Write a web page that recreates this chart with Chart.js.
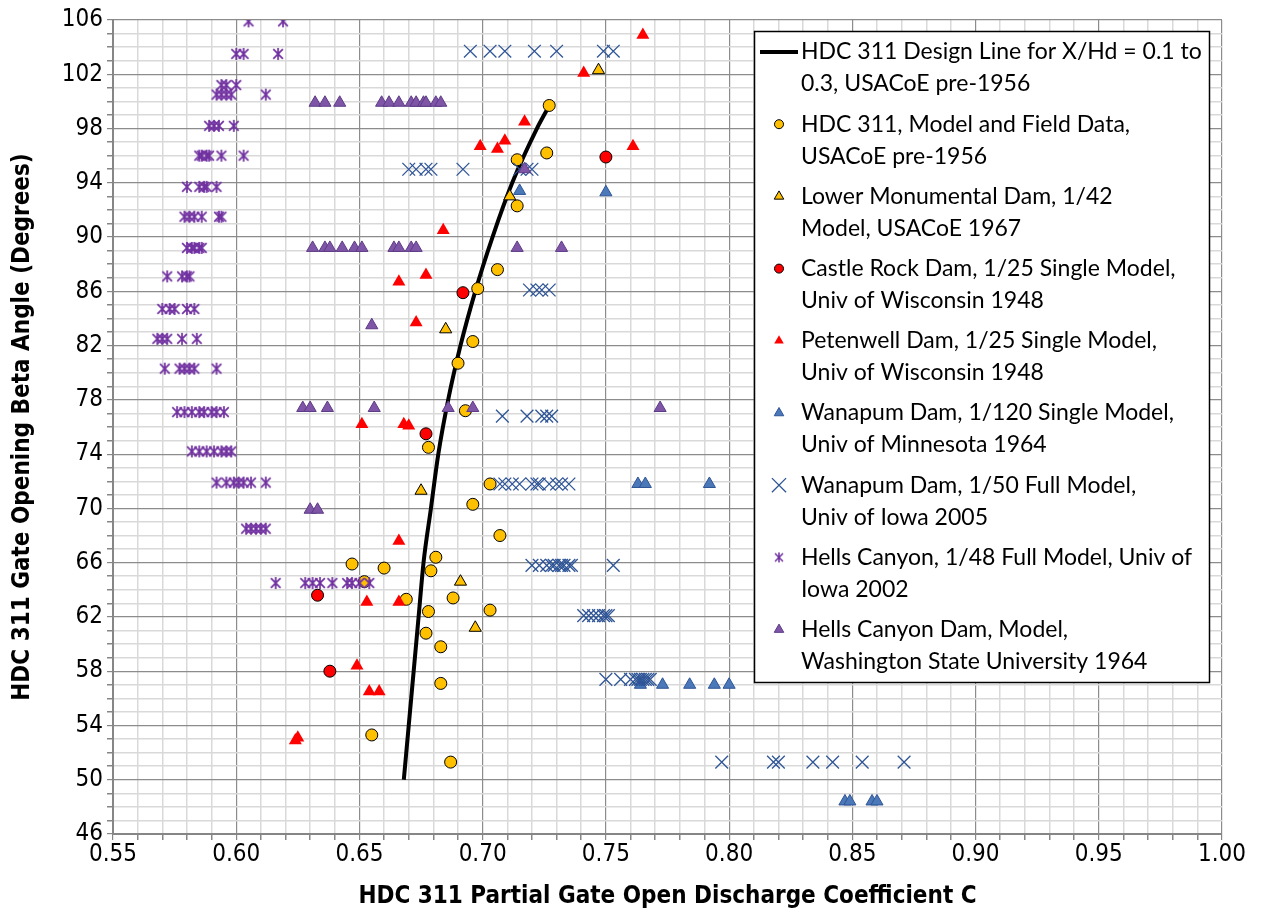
<!DOCTYPE html>
<html>
<head>
<meta charset="utf-8">
<script src="https://cdn.jsdelivr.net/npm/chart.js@4.4.1/dist/chart.umd.min.js"></script>
<style>
  html, body { margin: 0; padding: 0; background: #fff; }
  #wrap { width: 1261px; height: 914px; }
</style>
</head>
<body>
<div id="wrap"><canvas id="gateChart" width="1261" height="914"></canvas></div>
<script>
// design line (beta vs C)
const designC    = [0.668, 0.670, 0.672, 0.674, 0.676, 0.679, 0.682, 0.686, 0.691, 0.697, 0.704, 0.712, 0.722, 0.728];
const designBeta = [50, 54, 58, 62, 66, 70, 74, 78, 82, 86, 90, 94, 98, 100];

// HDC 311 model and field data
const hdcC    = [0.727, 0.726, 0.714, 0.714, 0.706, 0.698, 0.696, 0.690, 0.693, 0.678, 0.703, 0.696, 0.707, 0.681,
                 0.647, 0.660, 0.679, 0.652, 0.669, 0.688, 0.678, 0.703, 0.677, 0.683, 0.683, 0.655, 0.687];
const hdcBeta = [99.7, 96.2, 95.7, 92.3, 87.6, 86.2, 82.3, 80.7, 77.2, 74.5, 71.8, 70.3, 68.0, 66.4,
                 65.9, 65.6, 65.4, 64.6, 63.3, 63.4, 62.4, 62.5, 60.8, 59.8, 57.1, 53.3, 51.3];

const lowerMonC    = [0.747, 0.711, 0.685, 0.675, 0.691, 0.697];
const lowerMonBeta = [102.3, 93.0, 83.2, 71.3, 64.6, 61.2];

const castleC    = [0.750, 0.692, 0.677, 0.633, 0.638];
const castleBeta = [95.9, 85.9, 75.5, 63.6, 58.0];

const petenC    = [0.765, 0.741, 0.761, 0.717, 0.699, 0.706, 0.709, 0.684, 0.677, 0.666, 0.673,
                   0.651, 0.668, 0.670, 0.666, 0.653, 0.666, 0.649, 0.654, 0.658, 0.624, 0.625];
const petenBeta = [104.9, 102.1, 96.7, 98.5, 96.7, 96.5, 97.1, 90.5, 87.2, 86.7, 83.7,
                   76.2, 76.2, 76.1, 67.6, 63.1, 63.1, 58.4, 56.5, 56.5, 52.9, 53.1];

const wanSingleC    = [0.715, 0.750, 0.763, 0.766, 0.792, 0.764, 0.773, 0.784, 0.794, 0.800, 0.847, 0.849, 0.858, 0.860];
const wanSingleBeta = [93.4, 93.3, 71.8, 71.8, 71.8, 57.0, 57.0, 57.0, 57.0, 57.0, 48.4, 48.4, 48.4, 48.4];

const wanFullC = [
  0.695, 0.703, 0.709, 0.721, 0.730, 0.749, 0.753,
  0.670, 0.673, 0.677, 0.679, 0.692, 0.715, 0.718, 0.720,
  0.719, 0.722, 0.724, 0.727,
  0.708, 0.718, 0.724, 0.726, 0.728,
  0.707, 0.709, 0.712, 0.715, 0.720, 0.722, 0.723, 0.727, 0.730, 0.732, 0.735,
  0.720, 0.723, 0.726, 0.728, 0.729, 0.731, 0.732, 0.733, 0.735, 0.736, 0.753,
  0.741, 0.743, 0.745, 0.747, 0.749, 0.750, 0.751,
  0.750, 0.756, 0.760, 0.762, 0.763, 0.764, 0.765, 0.766, 0.767, 0.768,
  0.797, 0.818, 0.820, 0.834, 0.842, 0.854, 0.871
];
const wanFullBeta = [
  103.7, 103.7, 103.7, 103.7, 103.7, 103.7, 103.7,
  95.0, 95.0, 95.0, 95.0, 95.0, 95.0, 95.0, 95.0,
  86.1, 86.1, 86.1, 86.1,
  76.8, 76.8, 76.8, 76.8, 76.8,
  71.8, 71.8, 71.8, 71.8, 71.8, 71.8, 71.8, 71.8, 71.8, 71.8, 71.8,
  65.8, 65.8, 65.8, 65.8, 65.8, 65.8, 65.8, 65.8, 65.8, 65.8, 65.8,
  62.1, 62.1, 62.1, 62.1, 62.1, 62.1, 62.1,
  57.4, 57.4, 57.4, 57.4, 57.4, 57.4, 57.4, 57.4, 57.4, 57.4,
  51.3, 51.3, 51.3, 51.3, 51.3, 51.3, 51.3
];

const hellsIowaC = [
  0.605, 0.619,
  0.600, 0.603, 0.617,
  0.594, 0.596, 0.600,
  0.592, 0.594, 0.596, 0.598, 0.612,
  0.589, 0.591, 0.593, 0.599,
  0.585, 0.586, 0.588, 0.589, 0.594, 0.603,
  0.580, 0.585, 0.587, 0.588, 0.592,
  0.579, 0.581, 0.583, 0.586, 0.593, 0.594,
  0.580, 0.582, 0.583, 0.585, 0.586,
  0.572, 0.578, 0.580, 0.581,
  0.570, 0.573, 0.575, 0.580, 0.583,
  0.568, 0.570, 0.572, 0.578, 0.584,
  0.571, 0.577, 0.579, 0.581, 0.583, 0.592,
  0.576, 0.579, 0.582, 0.585, 0.587, 0.590, 0.592, 0.595,
  0.582, 0.585, 0.588, 0.591, 0.594, 0.596, 0.598,
  0.592, 0.596, 0.599, 0.601, 0.603, 0.606, 0.612,
  0.604, 0.606, 0.608, 0.610, 0.612,
  0.616, 0.628, 0.631, 0.634, 0.639, 0.645, 0.647, 0.650, 0.654
];
const hellsIowaBeta = [
  105.9, 105.9,
  103.5, 103.5, 103.5,
  101.2, 101.2, 101.2,
  100.5, 100.5, 100.5, 100.5, 100.5,
  98.2, 98.2, 98.2, 98.2,
  96.0, 96.0, 96.0, 96.0, 96.0, 96.0,
  93.7, 93.7, 93.7, 93.7, 93.7,
  91.5, 91.5, 91.5, 91.5, 91.5, 91.5,
  89.2, 89.2, 89.2, 89.2, 89.2,
  87.1, 87.1, 87.1, 87.1,
  84.7, 84.7, 84.7, 84.7, 84.7,
  82.5, 82.5, 82.5, 82.5, 82.5,
  80.3, 80.3, 80.3, 80.3, 80.3, 80.3,
  77.1, 77.1, 77.1, 77.1, 77.1, 77.1, 77.1, 77.1,
  74.2, 74.2, 74.2, 74.2, 74.2, 74.2, 74.2,
  71.9, 71.9, 71.9, 71.9, 71.9, 71.9, 71.9,
  68.5, 68.5, 68.5, 68.5, 68.5,
  64.5, 64.5, 64.5, 64.5, 64.5, 64.5, 64.5, 64.5, 64.5
];

const hellsWsuC = [
  0.632, 0.636, 0.642, 0.659, 0.662, 0.666, 0.671, 0.673, 0.676, 0.677, 0.681, 0.683,
  0.717,
  0.631, 0.636, 0.638, 0.643, 0.648, 0.651, 0.664, 0.666, 0.671, 0.673, 0.714, 0.732,
  0.655,
  0.627, 0.630, 0.637, 0.656, 0.686, 0.696, 0.772,
  0.630, 0.633
];
const hellsWsuBeta = [
  99.9, 99.9, 99.9, 99.9, 99.9, 99.9, 99.9, 99.9, 99.9, 99.9, 99.9, 99.9,
  95.0,
  89.2, 89.2, 89.2, 89.2, 89.2, 89.2, 89.2, 89.2, 89.2, 89.2, 89.2, 89.2,
  83.5,
  77.4, 77.4, 77.4, 77.4, 77.4, 77.4, 77.4,
  69.9, 69.9
];

const legendText = [
  ['HDC 311 Design Line for X/Hd = 0.1 to', '0.3, USACoE pre-1956'],
  ['HDC 311, Model and Field Data,', 'USACoE pre-1956'],
  ['Lower Monumental Dam, 1/42', 'Model, USACoE 1967'],
  ['Castle Rock Dam, 1/25 Single Model,', 'Univ of Wisconsin 1948'],
  ['Petenwell Dam, 1/25 Single Model,', 'Univ of Wisconsin 1948'],
  ['Wanapum Dam, 1/120 Single Model,', 'Univ of Minnesota 1964'],
  ['Wanapum Dam, 1/50 Full Model,', 'Univ of Iowa 2005'],
  ['Hells Canyon, 1/48 Full Model, Univ of', 'Iowa 2002'],
  ['Hells Canyon Dam, Model,', 'Washington State University 1964']
];

function pts(xs, ys) {
  return xs.map((x, i) => ({ x: x, y: ys[i] }));
}

// asterisk marker: X with a vertical bar
function asterisk(size, color, lw) {
  const c = document.createElement('canvas');
  c.width = size; c.height = size;
  const g = c.getContext('2d');
  const h = size / 2, r = size / 2 - 1, d = r * 0.8;
  g.strokeStyle = color;
  g.lineWidth = lw;
  g.beginPath();
  g.moveTo(h - d, h - d); g.lineTo(h + d, h + d);
  g.moveTo(h + d, h - d); g.lineTo(h - d, h + d);
  g.moveTo(h, h - r); g.lineTo(h, h + r);
  g.stroke();
  return c;
}

const purpleStar = asterisk(14, '#7030A0', 1.7);
const purpleStarSmall = asterisk(12, '#7030A0', 1.5);

const axisFont = '"Liberation Sans Narrow", "DejaVu Sans Condensed", "Arial Narrow", sans-serif';

function isMajorX(v) { return Math.round(v * 100) % 5 === 0; }
function isMajorY(v) { return Math.round(v - 46) % 4 === 0; }

const boxLegend = {
  id: 'boxLegend',
  afterDraw(chart) {
    const ctx = chart.ctx;
    const left = 754, top = 31, w = 455, h = 651;
    ctx.save();
    ctx.fillStyle = '#ffffff';
    ctx.fillRect(left, top, w, h);
    ctx.strokeStyle = '#000000';
    ctx.lineWidth = 1.5;
    ctx.strokeRect(left + 0.5, top + 0.5, w, h);
    ctx.font = '23px Lato, "Open Sans", sans-serif';
    ctx.textBaseline = 'middle';
    ctx.textAlign = 'left';
    chart.data.datasets.forEach((ds, i) => {
      const y = 52 + i * 72.2;
      const mx = 779;
      if (i === 0) {
        ctx.strokeStyle = ds.borderColor;
        ctx.lineWidth = 4;
        ctx.beginPath();
        ctx.moveTo(760, y); ctx.lineTo(798, y);
        ctx.stroke();
      } else {
        ctx.fillStyle = ds.backgroundColor;
        ctx.strokeStyle = ds.borderColor;
        ctx.lineWidth = ds.borderWidth;
        Chart.helpers.drawPoint(ctx, {
          pointStyle: ds.legendStyle || ds.pointStyle,
          radius: ds.legendRadius,
          rotation: 0,
          borderWidth: ds.borderWidth
        }, mx, y);
      }
      ctx.fillStyle = '#000000';
      legendText[i].forEach((line, j) => {
        ctx.fillText(line, 801, y + j * 32);
      });
    });
    ctx.restore();
  }
};

new Chart(document.getElementById('gateChart').getContext('2d'), {
  type: 'scatter',
  data: {
    datasets: [
      {
        label: legendText[0].join(' '),
        data: pts(designC, designBeta),
        showLine: true,
        borderColor: '#000000',
        borderWidth: 4,
        pointRadius: 0,
        cubicInterpolationMode: 'monotone',
        order: 9
      },
      {
        label: legendText[1].join(' '),
        data: pts(hdcC, hdcBeta),
        pointStyle: 'circle',
        pointRadius: 6,
        legendRadius: 4.5,
        backgroundColor: '#FFC000',
        borderColor: '#000000',
        borderWidth: 1,
        order: 8
      },
      {
        label: legendText[2].join(' '),
        data: pts(lowerMonC, lowerMonBeta),
        pointStyle: 'triangle',
        pointRadius: 7,
        legendRadius: 5.5,
        backgroundColor: '#FFC000',
        borderColor: '#000000',
        borderWidth: 1,
        order: 7
      },
      {
        label: legendText[3].join(' '),
        data: pts(castleC, castleBeta),
        pointStyle: 'circle',
        pointRadius: 6,
        legendRadius: 4.5,
        backgroundColor: '#FF0000',
        borderColor: '#000000',
        borderWidth: 1,
        order: 6
      },
      {
        label: legendText[4].join(' '),
        data: pts(petenC, petenBeta),
        pointStyle: 'triangle',
        pointRadius: 7.5,
        legendRadius: 5.5,
        backgroundColor: '#FF0000',
        borderColor: '#FF0000',
        borderWidth: 0,
        order: 5
      },
      {
        label: legendText[5].join(' '),
        data: pts(wanSingleC, wanSingleBeta),
        pointStyle: 'triangle',
        pointRadius: 7,
        legendRadius: 5.5,
        backgroundColor: '#4A78B8',
        borderColor: '#2F5597',
        borderWidth: 1,
        order: 4
      },
      {
        label: legendText[6].join(' '),
        data: pts(wanFullC, wanFullBeta),
        pointStyle: 'crossRot',
        pointRadius: 9,
        legendRadius: 10,
        backgroundColor: '#2F5597',
        borderColor: '#2F5597',
        borderWidth: 1.3,
        order: 3
      },
      {
        label: legendText[7].join(' '),
        data: pts(hellsIowaC, hellsIowaBeta),
        pointStyle: purpleStar,
        legendStyle: purpleStarSmall,
        pointRadius: 7,
        legendRadius: 6,
        backgroundColor: '#7030A0',
        borderColor: '#7030A0',
        borderWidth: 1,
        order: 2
      },
      {
        label: legendText[8].join(' '),
        data: pts(hellsWsuC, hellsWsuBeta),
        pointStyle: 'triangle',
        pointRadius: 7,
        legendRadius: 5.5,
        backgroundColor: '#7F55A8',
        borderColor: '#5E3B86',
        borderWidth: 1,
        order: 1
      }
    ]
  },
  options: {
    responsive: false,
    animation: false,
    devicePixelRatio: 1,
    layout: { padding: { left: 0, top: 20, right: 39, bottom: 0 } },
    plugins: {
      legend: { display: false },
      tooltip: { enabled: false }
    },
    scales: {
      x: {
        type: 'linear',
        min: 0.55,
        max: 1.0,
        afterFit(scale) { scale.height = 80; },
        ticks: {
          stepSize: 0.01,
          autoSkip: false,
          maxRotation: 0,
          padding: 0,
          color: '#000000',
          font: { family: axisFont, size: 24 },
          callback: v => isMajorX(v) ? v.toFixed(2) : ''
        },
        grid: {
          color: ctx => isMajorX(ctx.tick.value) ? '#8C8C8C' : '#D9D9D9',
          lineWidth: ctx => isMajorX(ctx.tick.value) ? 1.2 : 1.5,
          tickColor: '#868686',
          tickLength: 6
        },
        border: { color: '#868686', width: 2 },
        title: {
          display: true,
          text: 'HDC 311 Partial Gate Open Discharge Coefficient C',
          color: '#000000',
          font: { family: axisFont, size: 24, weight: 'bold' },
          padding: { top: 0, bottom: 3 }
        }
      },
      y: {
        type: 'linear',
        min: 46,
        max: 106,
        afterFit(scale) { scale.width = 113; },
        ticks: {
          stepSize: 1,
          autoSkip: false,
          padding: 4,
          color: '#000000',
          font: { family: axisFont, size: 24 },
          callback: v => isMajorY(v) ? String(v) : ''
        },
        grid: {
          color: ctx => isMajorY(ctx.tick.value) ? '#8C8C8C' : '#D9D9D9',
          lineWidth: ctx => isMajorY(ctx.tick.value) ? 1.2 : 1.5,
          tickColor: '#868686',
          tickLength: 6
        },
        border: { color: '#868686', width: 2 },
        title: {
          display: true,
          text: 'HDC 311 Gate Opening Beta Angle (Degrees)',
          color: '#000000',
          font: { family: axisFont, size: 24, weight: 'bold' },
          padding: { top: 8, bottom: 0 }
        }
      }
    }
  },
  plugins: [boxLegend]
});
</script>
</body>
</html>
